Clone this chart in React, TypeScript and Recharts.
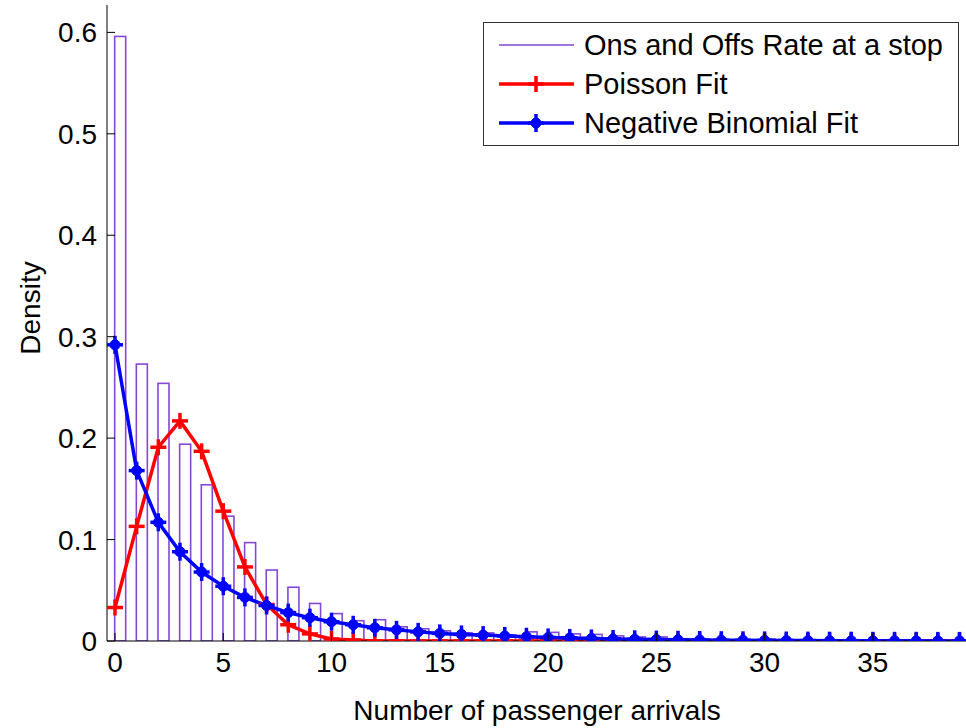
import React from 'react'
import { ComposedChart, Bar, Line, XAxis, YAxis, Legend } from 'recharts'

const arrivals = [
  0, 1, 2, 3, 4, 5, 6, 7, 8, 9, 10, 11, 12, 13, 14, 15, 16, 17, 18, 19,
  20, 21, 22, 23, 24, 25, 26, 27, 28, 29, 30, 31, 32, 33, 34, 35, 36, 37, 38, 39,
]

const onsOffs = [
  0.596, 0.273, 0.254, 0.194, 0.154, 0.123, 0.097, 0.07, 0.053, 0.037,
  0.027, 0.02, 0.021, 0.014, 0.012, 0.01, 0.008, 0.008, 0.006, 0.009,
  0.0085, 0.007, 0.0065, 0.005, 0.004, 0.004, 0.002, 0.002, 0.001, 0.001,
  0.002, 0.001, 0, 0, 0, 0, 0, 0, 0, 0,
]

const poissonFit = [
  0.033, 0.113, 0.191, 0.217, 0.187, 0.128, 0.073, 0.036, 0.016, 0.007,
  0.002, 0.001, 0, 0, 0, 0, 0, 0, 0, 0,
  0, 0, 0, 0, 0, 0, 0, 0, 0, 0,
  0, 0, 0, 0, 0, 0, 0, 0, 0, 0,
]

const negBinFit = [
  0.292, 0.168, 0.117, 0.088, 0.068, 0.054, 0.043, 0.035, 0.028, 0.023,
  0.019, 0.016, 0.013, 0.011, 0.009, 0.0075, 0.0065, 0.0058, 0.005, 0.0042,
  0.0035, 0.003, 0.0025, 0.002, 0.0017, 0.0014, 0.0012, 0.001, 0.0008, 0.0007,
  0.0006, 0.0005, 0.0004, 0.0003, 0.0003, 0.0002, 0.0002, 0.0002, 0.0001, 0.0001,
]

const xTicks = [0, 5, 10, 15, 20, 25, 30, 35]
const yTicks = [0, 0.1, 0.2, 0.3, 0.4, 0.5, 0.6]

const data = arrivals.map((k, i) => ({
  k,
  hist: onsOffs[i],
  poisson: poissonFit[i],
  negbin: negBinFit[i],
}))

const FONT = '"Liberation Sans", Arial, sans-serif'
const PURPLE = '#8447D6'
const TICK_LEN = 8

function BottomTick(props: any) {
  const { x, y, payload } = props
  return (
    <g>
      <line x1={x} x2={x} y1={y - 10} y2={y - 10 - TICK_LEN} stroke="#000" />
      <text x={x} y={y} dy="0.75em" textAnchor="middle" fontSize={28} fontFamily={FONT} fill="#000">
        {payload.value}
      </text>
    </g>
  )
}

function LeftTick(props: any) {
  const { x, y, payload } = props
  return (
    <g>
      <line x1={x + 10} x2={x + 10 + TICK_LEN} y1={y} y2={y} stroke="#000" />
      <text x={x} y={y} dy="0.36em" textAnchor="end" fontSize={28} fontFamily={FONT} fill="#000">
        {payload.value === 0 ? '0' : payload.value.toFixed(1)}
      </text>
    </g>
  )
}

function TopTick(props: any) {
  const { x, y } = props
  return <line x1={x} x2={x} y1={y} y2={y + TICK_LEN} stroke="#000" />
}

function RightTick(props: any) {
  const { x, y } = props
  return <line x1={x} x2={x - TICK_LEN} y1={y} y2={y} stroke="#000" />
}

function XLabel() {
  return (
    <text x={537} y={710} dy="0.36em" textAnchor="middle" fontSize={28} fontFamily={FONT} fill="#000">
      Number of passenger arrivals
    </text>
  )
}

function YLabel() {
  return (
    <text
      x={0}
      y={0}
      dy="0.36em"
      textAnchor="middle"
      fontSize={28}
      fontFamily={FONT}
      fill="#000"
      transform="translate(30, 308) rotate(-90)"
    >
      Density
    </text>
  )
}

function HistBar(props: any) {
  const { x, y, width, height } = props
  if (height == null || height <= 0) return null
  return (
    <rect
      x={x + width / 2 - 0.5}
      y={y}
      width={width - 1}
      height={height}
      fill="none"
      stroke={PURPLE}
      strokeWidth={1.6}
    />
  )
}

function PlusDot(props: any) {
  const { cx, cy } = props
  if (cx == null || cy == null) return null
  return (
    <g stroke="#FF0000" strokeWidth={3.5}>
      <line x1={cx - 8} x2={cx + 8} y1={cy} y2={cy} />
      <line x1={cx} x2={cx} y1={cy - 8} y2={cy + 8} />
    </g>
  )
}

function StarDot(props: any) {
  const { cx, cy } = props
  if (cx == null || cy == null) return null
  return (
    <g stroke="#0000FF" strokeWidth={3.5} fill="#0000FF">
      <line x1={cx - 8} x2={cx + 8} y1={cy} y2={cy} />
      <line x1={cx} x2={cx} y1={cy - 9} y2={cy + 9} />
      <circle cx={cx} cy={cy} r={5} strokeWidth={1} />
    </g>
  )
}

function LegendBox() {
  const rows = [
    { label: 'Ons and Offs Rate at a stop', color: PURPLE, width: 1.5, marker: '' },
    { label: 'Poisson Fit', color: '#FF0000', width: 3.5, marker: 'plus' },
    { label: 'Negative Binomial Fit', color: '#0000FF', width: 3.5, marker: 'star' },
  ]
  return (
    <div
      style={{
        width: 476,
        height: 124,
        border: '1px solid #333',
        background: '#fff',
        boxSizing: 'border-box',
        position: 'relative',
      }}
    >
      <svg width={476} height={124} style={{ position: 'absolute', left: 0, top: 0 }}>
        {rows.map((r, i) => {
          const cy = 22 + i * 39
          return (
            <g key={r.label}>
              <line x1={15} x2={90} y1={cy} y2={cy} stroke={r.color} strokeWidth={r.width} />
              {r.marker === 'plus' && <PlusDot cx={52} cy={cy} />}
              {r.marker === 'star' && <StarDot cx={52} cy={cy} />}
              <text x={100} y={cy} dy="0.36em" fontSize={29} fontFamily={FONT} fill="#000">
                {r.label}
              </text>
            </g>
          )
        })}
      </svg>
    </div>
  )
}

export default function App() {
  return (
    <div style={{ position: 'absolute', left: 0, top: 0, background: '#fff' }}>
      <ComposedChart
        width={966}
        height={728}
        data={data}
        margin={{ top: 5, right: 0, bottom: 0, left: 0 }}
      >
        <XAxis
          dataKey="k"
          type="number"
          domain={[-0.37, 39.3]}
          ticks={xTicks}
          allowDataOverflow
          height={87}
          tickLine={false}
          tickSize={0}
          tickMargin={10}
          tick={<BottomTick />}
          axisLine={{ stroke: '#000' }}
          label={<XLabel />}
        />
        <XAxis
          xAxisId="top"
          orientation="top"
          dataKey="k"
          type="number"
          domain={[-0.37, 39.3]}
          ticks={xTicks}
          allowDataOverflow
          height={0}
          tickLine={false}
          tickSize={0}
          tickMargin={0}
          tick={<TopTick />}
          axisLine={{ stroke: '#000' }}
        />
        <YAxis
          type="number"
          domain={[0, 0.627]}
          ticks={yTicks}
          allowDataOverflow
          width={107}
          tickLine={false}
          tickSize={0}
          tickMargin={10}
          tick={<LeftTick />}
          axisLine={{ stroke: '#000' }}
          label={<YLabel />}
        />
        <YAxis
          yAxisId="right"
          orientation="right"
          type="number"
          domain={[0, 0.627]}
          ticks={yTicks}
          allowDataOverflow
          width={0}
          tickLine={false}
          tickSize={0}
          tickMargin={0}
          tick={<RightTick />}
          axisLine={{ stroke: '#000' }}
        />
        <Legend
          layout="horizontal"
          verticalAlign="middle"
          align="center"
          wrapperStyle={{ position: 'absolute', left: 483, top: 22, width: 476, height: 124 }}
          content={() => <LegendBox />}
        />
        <Bar dataKey="hist" barSize={12} shape={<HistBar />} isAnimationActive={false} />
        <Line
          dataKey="poisson"
          stroke="#FF0000"
          strokeWidth={3.5}
          dot={<PlusDot />}
          activeDot={false}
          isAnimationActive={false}
          type="linear"
        />
        <Line
          dataKey="negbin"
          stroke="#0000FF"
          strokeWidth={3.5}
          dot={<StarDot />}
          activeDot={false}
          isAnimationActive={false}
          type="linear"
        />
      </ComposedChart>
    </div>
  )
}
